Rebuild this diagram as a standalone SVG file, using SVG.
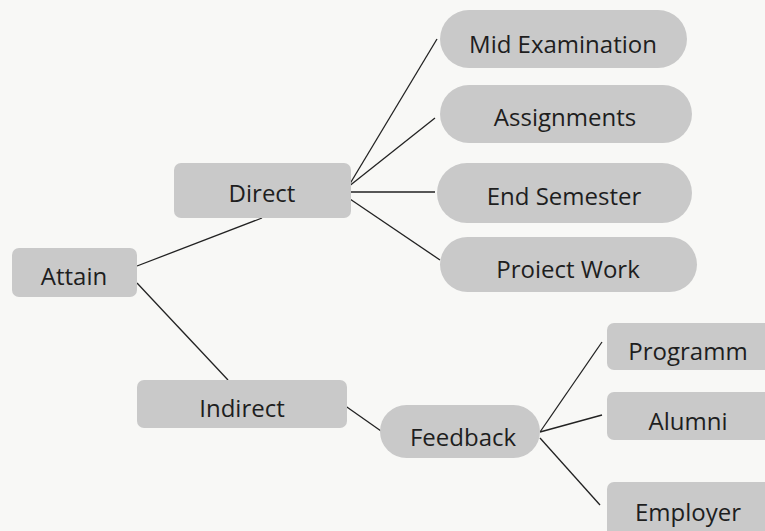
<svg xmlns="http://www.w3.org/2000/svg" width="765" height="531" viewBox="0 0 765 531">
<style>
.box{fill:#c9c9c9}
.t{font-family:"Open Sans","Noto Sans",sans-serif;font-size:24px;fill:#1e1e1e;text-anchor:middle;dominant-baseline:central}
.c{stroke:#222;stroke-width:1.3;fill:none}
</style>
<rect width="765" height="531" fill="#f8f8f6"/>
<g id="connectors">
<line class="c" x1="137" y1="266" x2="262" y2="218"/>
<line class="c" x1="137" y1="283" x2="228" y2="380"/>
<line class="c" x1="348" y1="187" x2="437" y2="39"/>
<line class="c" x1="348" y1="187" x2="435" y2="118"/>
<line class="c" x1="350" y1="192" x2="435" y2="192"/>
<line class="c" x1="347" y1="197" x2="440" y2="260"/>
<line class="c" x1="344" y1="405" x2="381" y2="431"/>
<line class="c" x1="540" y1="432" x2="602" y2="342"/>
<line class="c" x1="540" y1="432" x2="602" y2="415"/>
<line class="c" x1="540" y1="438" x2="600" y2="505"/>
</g>
<g id="attain"><rect class="box" x="12" y="248" width="125" height="49" rx="7"/><text class="t" x="74" y="275">Attain</text></g>
<g id="direct"><rect class="box" x="174" y="163" width="177" height="55" rx="7"/><text class="t" x="262" y="192">Direct</text></g>
<g id="indirect"><rect class="box" x="137" y="380" width="210" height="48" rx="7"/><text class="t" x="242" y="407">Indirect</text></g>
<g id="mid"><rect class="box" x="440" y="10" width="247" height="58" rx="29"/><text class="t" x="563" y="43">Mid Examination</text></g>
<g id="assign"><rect class="box" x="440" y="85" width="252" height="58" rx="29"/><text class="t" x="565" y="116">Assignments</text></g>
<g id="endsem"><rect class="box" x="437" y="163" width="255" height="60" rx="30"/><text class="t" x="564" y="195">End Semester</text></g>
<g id="project"><rect class="box" x="440" y="237" width="257" height="55" rx="27.5"/><text class="t" x="568" y="268">Proiect Work</text></g>
<g id="feedback"><rect class="box" x="380" y="405" width="160" height="53" rx="26.5"/><text class="t" x="463" y="436">Feedback</text></g>
<g id="programm"><rect class="box" x="607" y="323" width="170" height="47" rx="7"/><text class="t" x="688" y="350">Programm</text></g>
<g id="alumni"><rect class="box" x="607" y="392" width="170" height="48" rx="7"/><text class="t" x="688" y="420">Alumni</text></g>
<g id="employer"><rect class="box" x="607" y="482" width="170" height="60" rx="7"/><text class="t" x="688" y="511">Employer</text></g>
</svg>
